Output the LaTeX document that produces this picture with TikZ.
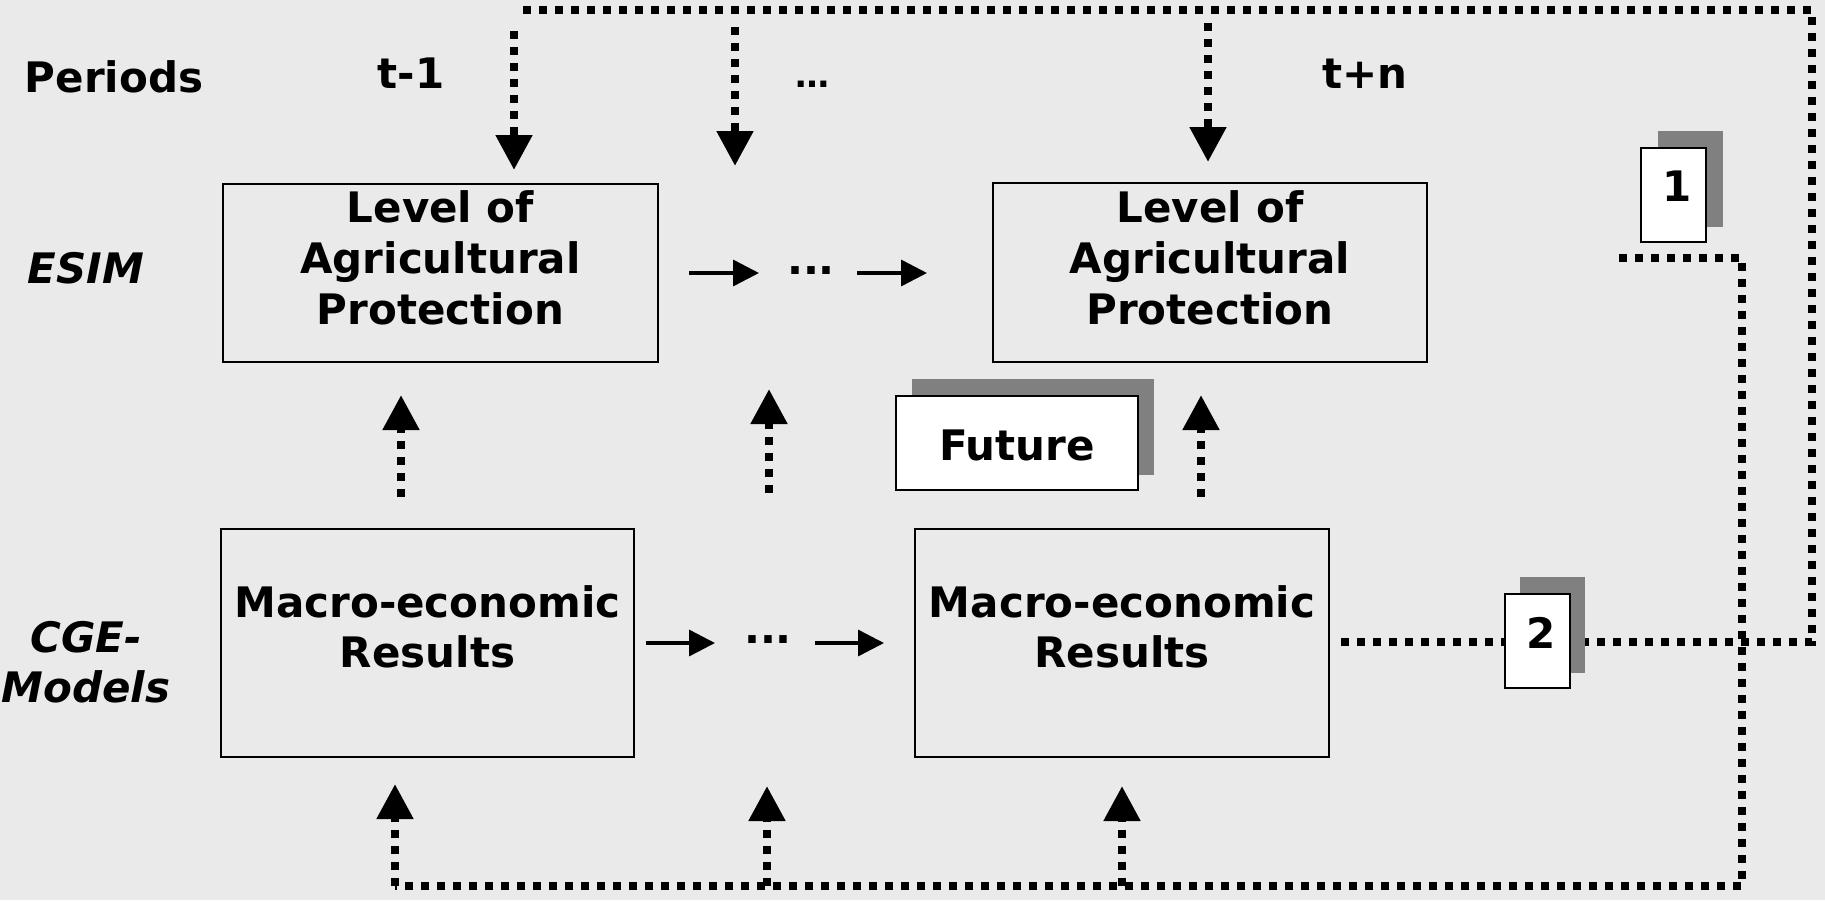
\documentclass[tikz,border=0pt]{standalone}
\usepackage{fontspec}
\setmainfont{DejaVu Sans}
\usetikzlibrary{arrows.meta}
\definecolor{bg}{RGB}{234,234,234}
\definecolor{shade}{RGB}{128,128,128}
\begin{document}
\begin{tikzpicture}[x=1pt,y=-1pt,
 txt/.style={font=\bfseries\fontsize{42}{51}\selectfont, inner sep=0pt, outer sep=0pt},
 txtit/.style={font=\bfseries\itshape\fontsize{42}{50}\selectfont, inner sep=0pt, outer sep=0pt},
 mainbox/.style={draw=black, line width=2.5pt, inner sep=0pt, outer sep=0pt},
 shadowbox/.style={fill=shade, draw=none, minimum width=65pt, minimum height=96pt, inner sep=0pt, outer sep=0pt},
 paper/.style={fill=white, draw=black, line width=2pt, minimum width=65pt, minimum height=94pt, inner sep=0pt, outer sep=0pt},
 dotline/.style={line width=8pt, dash pattern=on 8pt off 8pt},
 dotarrow/.style={dotline, -{Triangle[length=35pt,width=35pt]}},
 solidarrow/.style={line width=3.5pt, -{Triangle[length=26pt,width=26pt]}},
]
\fill[bg] (0,0) rectangle (1825,900);
\useasboundingbox (0,0) rectangle (1825,900);

% coordinates for connectors
\coordinate (l1a) at (1341,642);
\coordinate (l1b) at (1812,642);
\coordinate (l1c) at (1812,10);
\coordinate (l1d) at (521,10);
\coordinate (l2a) at (1619,258);
\coordinate (l2b) at (1742,258);
\coordinate (l2c) at (1742,886);
\coordinate (l2d) at (395,886);
\coordinate (d1s) at (514,31);  \coordinate (d1e) at (514,170);
\coordinate (d2s) at (735,27);  \coordinate (d2e) at (735,166);
\coordinate (d3s) at (1208,23); \coordinate (d3e) at (1208,162);
\coordinate (u1s) at (401,497); \coordinate (u1e) at (401,395);
\coordinate (u2s) at (769,493); \coordinate (u2e) at (769,389);
\coordinate (u3s) at (1201,497);\coordinate (u3e) at (1201,395);
\coordinate (v1s) at (395,886); \coordinate (v1e) at (395,784);
\coordinate (v2s) at (767,886); \coordinate (v2e) at (767,786);
\coordinate (v3s) at (1122,886);\coordinate (v3e) at (1122,786);
\coordinate (a1s) at (689,273); \coordinate (a1e) at (759,273);
\coordinate (a2s) at (857,273); \coordinate (a2e) at (927,273);
\coordinate (a3s) at (646,643); \coordinate (a3e) at (715,643);
\coordinate (a4s) at (815,643); \coordinate (a4e) at (884,643);

% dotted loops
\draw[dotline] (l1a) -- (l1b) -- (l1c) -- (l1d);
\draw[dotline] (l2a) -- (l2b) -- (l2c) -- (l2d);
\draw[dotarrow] (d1s) -- (d1e);
\draw[dotarrow] (d2s) -- (d2e);
\draw[dotarrow] (d3s) -- (d3e);
\draw[dotarrow] (u1s) -- (u1e);
\draw[dotarrow] (u2s) -- (u2e);
\draw[dotarrow] (u3s) -- (u3e);
\draw[dotarrow] (v1s) -- (v1e);
\draw[dotarrow] (v2s) -- (v2e);
\draw[dotarrow] (v3s) -- (v3e);

% main boxes
\node[mainbox, minimum width=435pt, minimum height=178pt] (b1) at (440.5,273) {};
\node[txt, align=center] (b1t) at (440.5,258) {Level of\\Agricultural\\Protection};
\node[mainbox, minimum width=434pt, minimum height=179pt] (b2) at (1210,272.5) {};
\node[txt, align=center] (b2t) at (1210,258) {Level of\\Agricultural\\Protection};
\node[mainbox, minimum width=413pt, minimum height=228pt] (b3) at (427.5,643) {};
\node[txt, font=\bfseries\fontsize{42}{50}\selectfont, align=center] (b3t) at (427.5,627) {Macro-economic\\Results};
\node[mainbox, minimum width=414pt, minimum height=228pt] (b4) at (1122,643) {};
\node[txt, font=\bfseries\fontsize{42}{50}\selectfont, align=center] (b4t) at (1122,627) {Macro-economic\\Results};

% solid arrows and ellipses
\node[txt, anchor=base] (e1) at (811,274) {...};
\node[txt, anchor=base] (e2) at (768,643) {...};
\draw[solidarrow] (a1s) -- (a1e);
\draw[solidarrow] (a2s) -- (a2e);
\draw[solidarrow] (a3s) -- (a3e);
\draw[solidarrow] (a4s) -- (a4e);

% labels
\node[txt, anchor=base] (periods) at (114,92) {Periods};
\node[txt, anchor=base] (tm1) at (411,88) {t-1};
\node[txt, anchor=base] (tpn) at (1365,88) {t+n};
\node[txt, font=\bfseries\fontsize{34}{40}\selectfont, anchor=base] (tdots) at (812,87) {…};
\node[txtit, anchor=base] (esim) at (86,283) {ESIM};
\node[txtit, align=center] (cge) at (86,662) {CGE-\\Models};

% papers with shadows
\node[shadowbox, minimum width=242pt, minimum height=96pt] (fsh) at (1033,427) {};
\node[paper, minimum width=242pt, minimum height=94pt] (fut) at (1017,443) {};
\node[txt, anchor=base] (futt) at (1017,460) {Future};
\node[shadowbox] (p1sh) at (1690,179) {};
\node[paper] (p1) at (1673.5,195) {};
\node[txt, anchor=base] (p1t) at (1677,201) {1};
\node[shadowbox] (p2sh) at (1552.5,625) {};
\node[paper] (p2) at (1537,641) {};
\node[txt, anchor=base] (p2t) at (1541,648) {2};
\end{tikzpicture}
\end{document}
